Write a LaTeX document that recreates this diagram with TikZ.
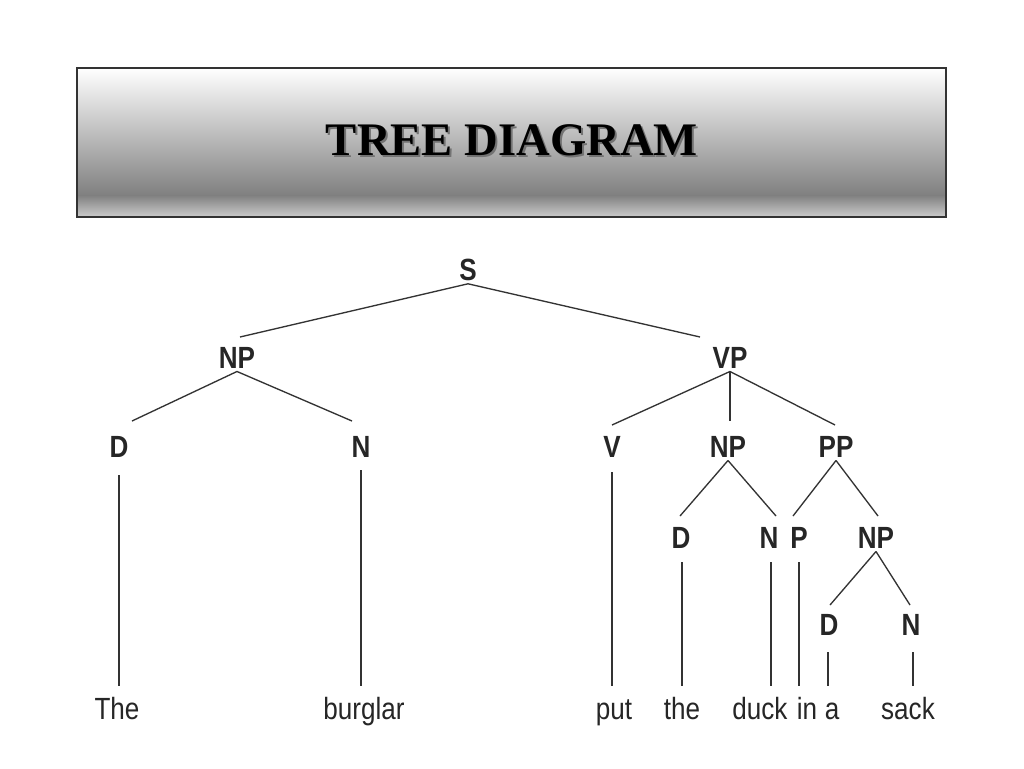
\documentclass[tikz,border=0pt]{standalone}
\usepackage{fontspec}
\setmainfont{Liberation Sans}
\newfontfamily\titlefont{Liberation Serif}
\begin{document}
\begin{tikzpicture}[x=0.75pt,y=-0.75pt,
  cat/.style={font=\fontsize{23}{25}\selectfont\bfseries, inner sep=2pt, text=black!85, xscale=0.85, transform shape},
  word/.style={font=\fontsize{23}{25}\selectfont, inner sep=2pt, text=black!85, xscale=0.85, transform shape, anchor=base},
  br/.style={draw=black!80, line width=1pt}]
\useasboundingbox (0,0) rectangle (1024,768);
\fill[white] (0,0) rectangle (1024,768);
% title box
\shade[top color=white, bottom color=black!50] (77,68) rectangle (946,195);
\shade[top color=black!50, bottom color=black!20] (77,195) rectangle (946,217);
\draw[black!80, line width=0.8pt] (77,68) rectangle (946,217);
\node (title) [font=\titlefont\fontsize{35}{37}\selectfont\bfseries, text=black,
  preaction={}] at (512,141) {\rlap{\hspace{1.5pt}\raisebox{-1.5pt}{\color{black!55}TREE DIAGRAM}}TREE DIAGRAM};
% categories
\node[cat] (S) at (468,270) {S};
\node[cat] (NP) at (237,358) {NP};
\node[cat] (VP) at (730,358) {VP};
\node[cat] (D) at (119,447) {D};
\node[cat] (N) at (361,447) {N};
\node[cat] (V) at (612,447) {V};
\node[cat] (NPb) at (728,447) {NP};
\node[cat] (PP) at (836,447) {PP};
\node[cat] (Db) at (681,538) {D};
\node[cat] (Nb) at (769,538) {N};
\node[cat] (P) at (799,538) {P};
\node[cat] (NPc) at (876,538) {NP};
\node[cat] (Dc) at (829,625) {D};
\node[cat] (Nc) at (911,625) {N};
% words
\node[word] (w1) at (117,719) {The};
\node[word] (w2) at (364,719) {burglar};
\node[word] (w3) at (614,719) {put};
\node[word] (w4) at (682,719) {the};
\node[word] (w5) at (760,719) {duck};
\node[word] (w6) at (807,719) {in};
\node[word] (w7) at (832,719) {a};
\node[word] (w8) at (908,719) {sack};
% branches
\draw[br] (S.south) -- (240,337);
\draw[br] (S.south) -- (700,337);
\draw[br] (NP.south) -- (132,421);
\draw[br] (NP.south) -- (352,421);
\draw[br] (VP.south) -- (612,425);
\draw[br] (VP.south) -- (730,421);
\draw[br] (VP.south) -- (835,425);
\draw[br] (NPb.south) -- (680,516);
\draw[br] (NPb.south) -- (776,516);
\draw[br] (PP.south) -- (793,516);
\draw[br] (PP.south) -- (878,516);
\draw[br] (NPc.south) -- (830,605);
\draw[br] (NPc.south) -- (910,605);
\draw[br] (119,475) -- (119,686);
\draw[br] (361,470) -- (361,686);
\draw[br] (612,472) -- (612,686);
\draw[br] (682,562) -- (682,686);
\draw[br] (771,562) -- (771,686);
\draw[br] (799,562) -- (799,686);
\draw[br] (828,652) -- (828,686);
\draw[br] (913,652) -- (913,686);
\end{tikzpicture}
\end{document}
